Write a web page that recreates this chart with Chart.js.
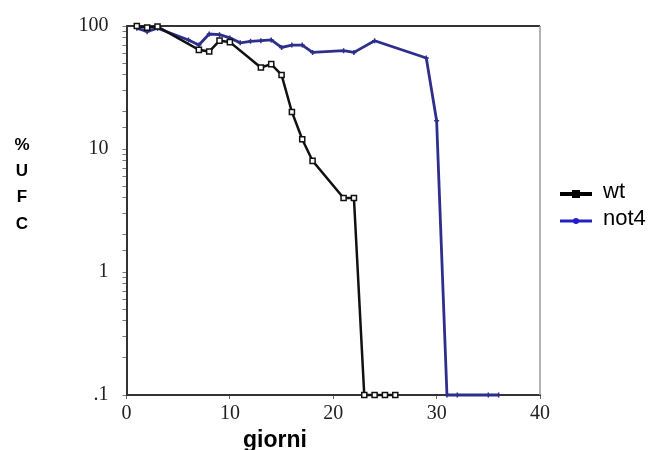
<!DOCTYPE html>
<html><head><meta charset="utf-8">
<script src="https://cdn.jsdelivr.net/npm/chart.js@4"></script>
<style>html,body{margin:0;padding:0;background:#fff}</style>
</head><body>
<canvas id="c" width="653" height="450"></canvas>
<script>
const wtDays = [1,2,3,7,8,9,10,13,14,15,16,17,18,21,22,23,24,25,26];
const wtUFC = [100,97,99,64,62,76,74,46,49,40,20,12,8,4,4,0.1,0.1,0.1,0.1];
const not4Days = [1,2,3,6,7,8,9,10,11,12,13,14,15,16,17,18,21,22,24,29,30,31,32,35,36];
const not4UFC = [96,90,96,77,70,86,85,80,73,75,76,77,67,70,70,61,63,61,76,55,17,0.1,0.1,0.1,0.1];
const seriesNames = ['wt','not4'];
const yTickLabels = {0.1:'.1',1:'1',10:'10',100:'100'};
const yTitle = ['%','U','F','C'];
const xTitle = 'giorni';

const toPts = (xs, ys) => xs.map((x,i)=>({x, y: ys[i]}));

const framePlugin = {
  id:'frame',
  beforeDatasetsDraw(chart){
    const {ctx, chartArea:a} = chart;
    ctx.save();
    ctx.strokeStyle = '#333'; ctx.lineWidth = 2;
    ctx.beginPath(); ctx.moveTo(a.left, a.top); ctx.lineTo(a.right, a.top); ctx.stroke();
    ctx.strokeStyle = '#999'; ctx.lineWidth = 1.5;
    ctx.beginPath(); ctx.moveTo(a.right, a.top); ctx.lineTo(a.right, a.bottom); ctx.stroke();
    ctx.restore();
  }
};
const textPlugin = {
  id:'texts',
  afterDraw(chart){
    const ctx = chart.ctx;
    ctx.save();
    ctx.fillStyle = '#000';
    ctx.font = 'bold 17px "Liberation Sans", Arial, sans-serif';
    ctx.textAlign = 'center'; ctx.textBaseline = 'middle';
    const ys = [145,171,197,224];
    yTitle.forEach((t,i)=>ctx.fillText(t, 22, ys[i]));
    ctx.font = 'bold 23px "Liberation Sans", Arial, sans-serif';
    ctx.textAlign = 'left'; ctx.textBaseline = 'alphabetic';
    ctx.fillText(xTitle, 243, 447);
    // legend
    const ds = chart.data.datasets;
    const lx = 560, lw = 32, ly = [194, 221];
    ctx.font = '22px "Liberation Sans", Arial, sans-serif';
    ctx.textBaseline = 'middle';
    ds.forEach((d,i)=>{
      ctx.strokeStyle = i===0 ? '#000' : '#2020c8';
      ctx.lineWidth = i===0 ? 4 : 3;
      ctx.beginPath(); ctx.moveTo(lx, ly[i]); ctx.lineTo(lx+lw, ly[i]); ctx.stroke();
      ctx.fillStyle = i===0 ? '#000' : '#2020c8';
      if (i===0) ctx.fillRect(lx+lw/2-4, ly[i]-4, 8, 8);
      else { ctx.beginPath(); ctx.arc(lx+lw/2, ly[i], 3, 0, Math.PI*2); ctx.fill(); }
      ctx.fillStyle = '#000';
      ctx.fillText(d.label, 603, ly[i]-2);
    });
    ctx.restore();
  }
};

new Chart(document.getElementById('c'), {
  type:'scatter',
  data:{ datasets:[
    { label: seriesNames[0], data: toPts(wtDays, wtUFC), showLine:true, clip:false,
      borderColor:'#111', borderWidth:2.5, pointStyle:'rect', pointRadius:3.6,
      pointBackgroundColor:'#fff', pointBorderColor:'#111', pointBorderWidth:1.5, order:1 },
    { label: seriesNames[1], data: toPts(not4Days, not4UFC), showLine:true, clip:false,
      borderColor:'#2e2e8c', borderWidth:2.8, pointStyle:'cross', pointRadius:2.5,
      pointBorderColor:'#2e2e8c', pointBorderWidth:1.5, order:2 }
  ]},
  options:{
    responsive:false, animation:false, devicePixelRatio:1,
    layout:{ padding:{ left:0, top:17, right:113, bottom:0 } },
    plugins:{ legend:{display:false}, tooltip:{enabled:false} },
    scales:{
      x:{ type:'linear', min:0, max:40,
        ticks:{ stepSize:10, color:'#222', padding:3, font:{family:'"Liberation Serif", serif', size:20} },
        grid:{ drawOnChartArea:false, tickLength:4, color:'#666' },
        border:{ color:'#333', width:2 },
        afterFit(s){ s.height = 55; } },
      y:{ type:'logarithmic', min:0.1, max:100,
        ticks:{ autoSkip:false, color:'#222', padding:14, font:{family:'"Liberation Serif", serif', size:20},
          callback:(v)=>{ const k = +(+v).toPrecision(2); return Object.prototype.hasOwnProperty.call(yTickLabels,k) ? yTickLabels[k] : ''; } },
        grid:{ drawOnChartArea:false, tickLength:4, color:'#777' },
        border:{ color:'#333', width:2 },
        afterFit(s){ s.width = 126.5; } }
    }
  },
  plugins:[framePlugin, textPlugin]
});
</script>
</body></html>
